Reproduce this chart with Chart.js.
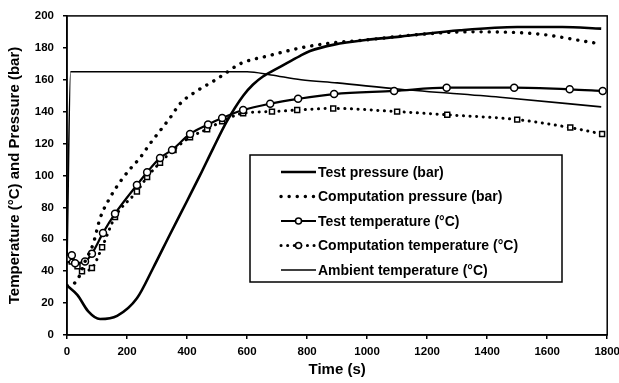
<!DOCTYPE html>
<html lang="en">
<head>
    <title>Temperature and pressure</title>
    <script src="https://cdn.jsdelivr.net/npm/chart.js@4.4.1/dist/chart.umd.min.js"></script>
    <style>
        body { margin: 0; background: #fff; overflow: hidden; }
        #boite { width: 626px; height: 383px; }
    </style>
</head>
<body>
<div id="boite"><canvas id="monGraphique"></canvas></div>

<script>
    // time (s) / value pairs
    var testPressureT = [0, 35, 70, 110, 167, 233, 287, 343, 400, 443, 487, 533, 587, 620, 653, 710, 777, 810, 890, 1000, 1110, 1310, 1500, 1650, 1780];
    var testPressureV = [31, 25, 15, 10, 12, 23, 42, 63, 84, 100, 117, 134, 150, 157, 162, 168, 175, 178, 182, 185, 187, 191, 193, 193, 192];

    var compPressureT = [0, 33, 60, 87, 110, 143, 177, 210, 243, 277, 310, 343, 377, 433, 487, 520, 577, 671, 780, 880, 1000, 1150, 1340, 1550, 1760];
    var compPressureV = [31, 34, 46, 57, 73, 86, 96, 104, 111, 120, 128, 136, 145, 153, 159, 163, 170, 175, 180, 183, 185, 188, 190, 189, 183];

    var testTempT = [0, 16, 27, 60, 83, 120, 160, 233, 267, 310, 350, 410, 470, 517, 587, 677, 770, 890, 1090, 1265, 1490, 1675, 1785];
    var testTempV = [48, 50, 45, 46, 51, 64, 76, 94, 102, 111, 116, 126, 132, 136, 141, 145, 148, 151, 153, 155, 155, 154, 153];

    var compTempT = [0, 16, 35, 50, 83, 117, 160, 233, 267, 310, 355, 410, 467, 517, 587, 683, 767, 887, 1100, 1267, 1500, 1677, 1783];
    var compTempV = [47, 46, 43, 40, 42, 55, 74, 90, 99, 108, 116, 124, 129, 134, 139, 140, 141, 142, 140, 138, 135, 130, 126];

    var ambientT = [0, 12, 600, 680, 780, 900, 1110, 1443, 1780];
    var ambientV = [45, 165, 165, 163, 160, 158, 154, 149, 143];

    var xTicks = [0, 200, 400, 600, 800, 1000, 1200, 1400, 1600, 1800];

    function points(ts, vs) {
        return ts.map(function (t, i) { return {x: t, y: vs[i]}; });
    }

    var police = '"Liberation Sans", Arial, sans-serif';

    // legend drawn inside the plot, in a framed box
    var legendeBoite = {
        id: 'legendeBoite',
        afterDatasetsDraw: function (chart) {
            var c = chart.ctx;
            var left = 250, top = 155, right = 562, bottom = 282;
            c.save();
            c.fillStyle = '#fff';
            c.fillRect(left, top, right - left, bottom - top);
            c.strokeStyle = '#000';
            c.lineWidth = 1.5;
            c.strokeRect(left, top, right - left, bottom - top);
            c.font = 'bold 14px ' + police;
            c.textBaseline = 'middle';
            c.fillStyle = '#000';
            chart.data.datasets.forEach(function (ds, i) {
                var y = 172 + i * 24.5;
                c.beginPath();
                c.lineWidth = ds.borderWidth;
                c.setLineDash(ds.borderDash || []);
                c.lineCap = ds.borderCapStyle || 'butt';
                c.moveTo(281, y);
                c.lineTo(316, y);
                c.stroke();
                c.setLineDash([]);
                if (ds.pointRadius > 0) {
                    c.beginPath();
                    c.lineWidth = 1.5;
                    c.arc(298.5, y, 3, 0, Math.PI * 2);
                    c.fillStyle = '#fff';
                    c.fill();
                    c.stroke();
                    c.fillStyle = '#000';
                }
                c.fillText(ds.label, 318, y + 1);
            });
            c.restore();
        },
        afterDraw: function (chart) {
            var a = chart.chartArea;
            var c = chart.ctx;
            c.save();
            c.strokeStyle = '#000';
            c.lineWidth = 1.5;
            c.strokeRect(a.left, a.top, a.right - a.left, a.bottom - a.top);
            c.restore();
        }
    };

    var ctx = document.getElementById('monGraphique').getContext('2d');
    var chart = new Chart(ctx, {
        type: 'scatter',
        data: {
            datasets: [{
                label: 'Test pressure (bar)',
                data: points(testPressureT, testPressureV),
                showLine: true,
                borderColor: '#000',
                borderWidth: 2.6,
                pointRadius: 0,
                cubicInterpolationMode: 'monotone'
            }, {
                label: 'Computation pressure (bar)',
                data: points(compPressureT, compPressureV),
                showLine: true,
                borderColor: '#000',
                borderWidth: 3.4,
                borderDash: [0.1, 8],
                borderCapStyle: 'round',
                pointRadius: 0,
                cubicInterpolationMode: 'monotone'
            }, {
                label: 'Test temperature (°C)',
                data: points(testTempT, testTempV),
                showLine: true,
                borderColor: '#000',
                borderWidth: 2.2,
                pointRadius: 3.5,
                pointStyle: 'circle',
                pointBackgroundColor: '#fff',
                pointBorderColor: '#000',
                pointBorderWidth: 1.5,
                cubicInterpolationMode: 'monotone'
            }, {
                label: 'Computation temperature (°C)',
                data: points(compTempT, compTempV),
                showLine: true,
                borderColor: '#000',
                borderWidth: 3,
                borderDash: [0.1, 6.5],
                borderCapStyle: 'round',
                pointRadius: 3.5,
                pointStyle: 'rect',
                pointBackgroundColor: '#fff',
                pointBorderColor: '#000',
                pointBorderWidth: 1.5,
                cubicInterpolationMode: 'monotone'
            }, {
                label: 'Ambient temperature (°C)',
                data: points(ambientT, ambientV),
                showLine: true,
                borderColor: '#000',
                borderWidth: 1.6,
                pointRadius: 0,
                cubicInterpolationMode: 'monotone'
            }]
        },
        options: {
            responsive: true,
            maintainAspectRatio: false,
            animation: false,
            layout: {padding: {top: 15, left: 0, right: 0, bottom: 0}},
            plugins: {
                legend: {display: false},
                tooltip: {enabled: false}
            },
            scales: {
                x: {
                    type: 'linear',
                    min: 0,
                    max: 1800,
                    afterBuildTicks: function (scale) {
                        scale.ticks = xTicks.map(function (v) { return {value: v}; });
                    },
                    afterFit: function (scale) { scale.height = 48; },
                    grid: {drawOnChartArea: false, color: '#000', tickLength: 4, lineWidth: 1.5},
                    border: {color: '#000', width: 1.5},
                    ticks: {
                        color: '#000',
                        padding: 6,
                        maxRotation: 0,
                        callback: function (v) { return String(v); },
                        font: {family: police, size: 11.5, weight: 'bold'}
                    },
                    title: {
                        display: true,
                        text: 'Time (s)',
                        color: '#000',
                        padding: {top: 2},
                        font: {family: police, size: 15, weight: 'bold'}
                    }
                },
                y: {
                    min: 0,
                    max: 200,
                    afterFit: function (scale) { scale.width = 67; },
                    grid: {drawOnChartArea: false, color: '#000', tickLength: 4, lineWidth: 1.5},
                    border: {color: '#000', width: 1.5},
                    ticks: {
                        stepSize: 20,
                        color: '#000',
                        padding: 9,
                        callback: function (v) { return String(v); },
                        font: {family: police, size: 11.5, weight: 'bold'}
                    },
                    title: {
                        display: true,
                        text: 'Temperature (°C) and Pressure (bar)',
                        color: '#000',
                        padding: {top: 6, bottom: 0},
                        font: {family: police, size: 15, weight: 'bold'}
                    }
                }
            }
        },
        plugins: [legendeBoite]
    });
</script>
</body>
</html>
